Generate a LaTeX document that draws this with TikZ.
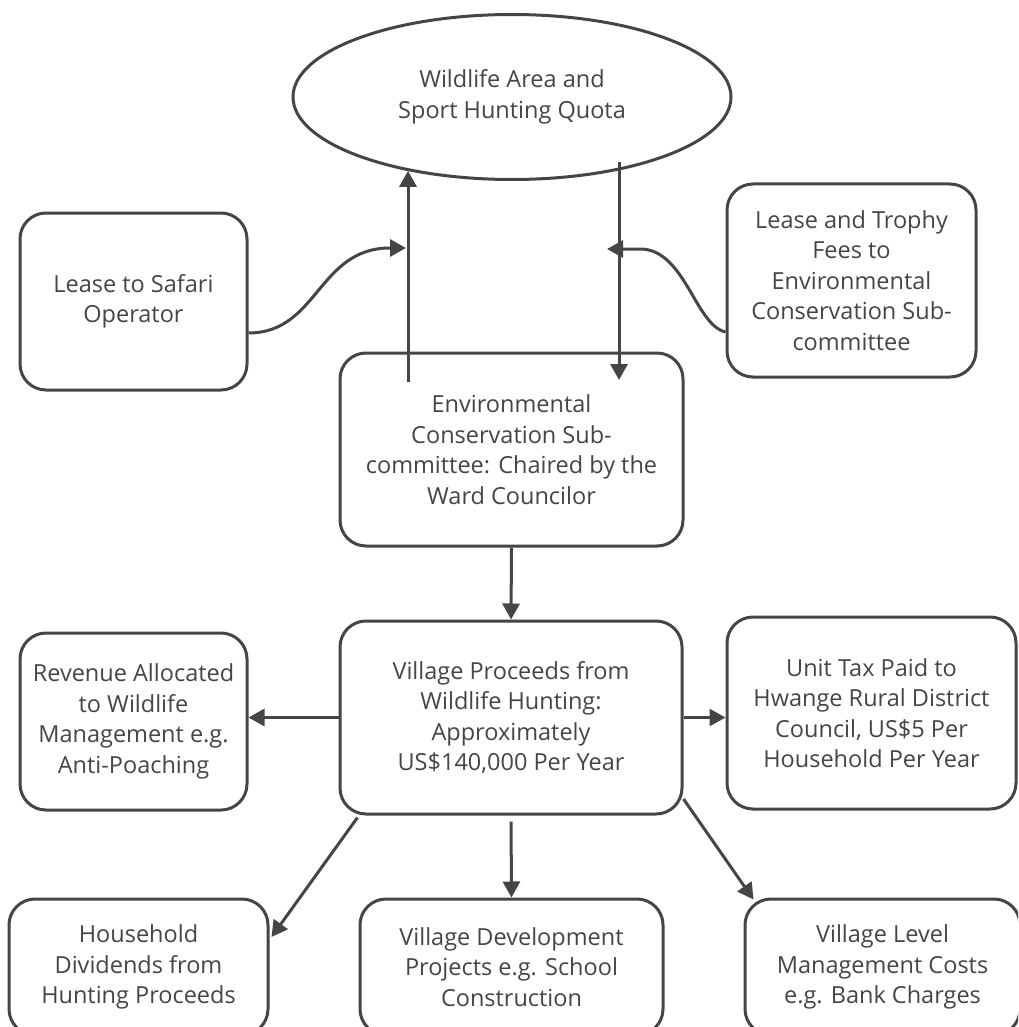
\documentclass[tikz,border=0pt]{standalone}
\usepackage{fontspec}
\setmainfont{Open Sans}
\usetikzlibrary{arrows.meta,shapes.geometric,calc}
\definecolor{ink}{HTML}{454545}
\begin{document}
\begin{tikzpicture}[x=1pt,y=-1pt,
  txt/.style={align=center, font=\fontsize{23.5}{30.5}\selectfont, text=ink},
  box/.style={txt, draw=ink, line width=3pt, rounded corners=26pt, inner sep=0pt},
  arr/.style={draw=ink, line width=3pt, -{Triangle[length=16pt,width=17pt]}}]
\useasboundingbox (0,0) rectangle (1018,1027);
\clip (0,0) rectangle (1018,1027);

\node[txt, ellipse, draw=ink, line width=3pt, inner sep=0pt, minimum width=438pt, minimum height=165pt] (ell) at (512,97) {Wildlife Area and\\Sport Hunting Quota};

\node[box, minimum width=227pt, minimum height=177pt] (lease) at (133.5,301.5) {Lease to Safari\\Operator};
\node[box, minimum width=249pt, minimum height=193pt] (fees) at (851.5,280.5) {Lease and Trophy\\Fees to\\Environmental\\Conservation Sub-\\committee};
\node[box, minimum width=343pt, minimum height=193pt] (ecs) at (511.5,449.5) {Environmental\\Conservation Sub-\\committee: Chaired by the\\Ward Councilor};
\node[box, minimum width=342pt, minimum height=193pt] (vp) at (511,717.5) {Village Proceeds from\\Wildlife Hunting:\\Approximately\\US\$140,000 Per Year};
\node[box, minimum width=227pt, minimum height=177pt] (rev) at (133.5,721.5) {Revenue Allocated\\to Wildlife\\Management e.g.\\Anti-Poaching};
\node[box, minimum width=289pt, minimum height=192pt] (tax) at (871.5,713) {Unit Tax Paid to\\Hwange Rural District\\Council, US\$5 Per\\Household Per Year};
\node[box, minimum width=259pt, minimum height=136pt] (hh) at (138.5,967) {Household\\Dividends from\\Hunting Proceeds};
\node[box, minimum width=303pt, minimum height=136pt] (vdp) at (511.5,967) {Village Development\\Projects e.g. School\\Construction};
\node[box, minimum width=275pt, minimum height=136pt] (vlm) at (882.5,967) {Village Level\\Management Costs\\e.g. Bank Charges};

% coordinates for free ends
\coordinate (upS) at (408,382);
\coordinate (dnS) at (619,162);
\coordinate (dnE) at (619,380);
\coordinate (lTip) at (406,248);
\coordinate (rTip) at (607,249);

% upper connectors
\draw[arr] ($(lease.east)+(0,31.5)$) .. controls (318,333) and (318,248) .. (390,248) -- (lTip);
\draw[arr] ($(fees.west)+(0,51.5)$) .. controls (695,325) and (685,249) .. (640,249) -- (rTip);
\draw[arr] (upS) -- (upS |- ell.215);
\draw[arr] (dnS) -- (dnE);

% lower connectors
\draw[arr] (ecs.south) -- (vp.north);
\draw[arr] (vp.west) -- (vp.west -| rev.east);
\draw[arr] (vp.east) -- (vp.east -| tax.west);
\draw[arr, shorten <=6pt] (vp.south) -- (vdp.north);
\draw[arr] ($(vp.south west)+(19,2)$) -- ($(hh.east)+(2,-30)$);
\draw[arr] ($(vp.east)+(0,81.5)$) -- ($(vlm.north west)+(10,2)$);
\end{tikzpicture}
\end{document}
